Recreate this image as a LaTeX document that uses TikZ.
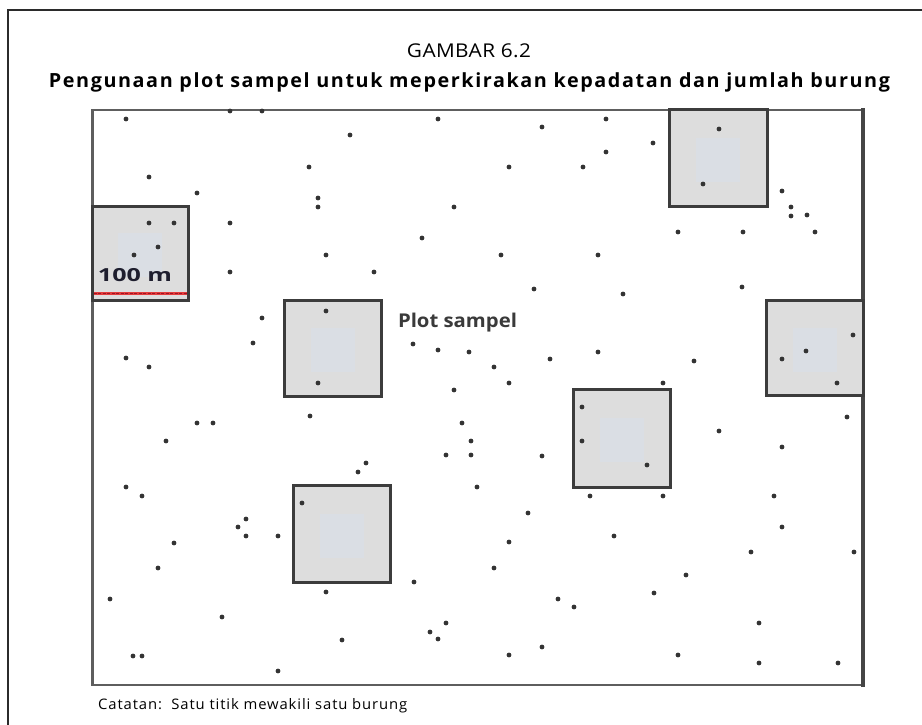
\documentclass[tikz,border=0pt]{standalone}
\usepackage{fontspec}
\usepackage{graphicx}
\setmainfont{Open Sans}
\newfontfamily\spacedfont[LetterSpace=8]{Open Sans}
\newfontfamily\capfont[LetterSpace=2]{Open Sans}
\newfontfamily\notefont[LetterSpace=6]{Open Sans}
\definecolor{framecol}{HTML}{2B2B2B}
\definecolor{mapedge}{HTML}{5E5E5E}
\definecolor{mapedgedark}{HTML}{454545}
\definecolor{plotedge}{HTML}{3C3C3C}
\definecolor{plotfill}{HTML}{DDDDDD}
\definecolor{plotinner}{HTML}{DADEE4}
\definecolor{dotcol}{HTML}{333333}
\definecolor{redline}{HTML}{E33B3B}
\definecolor{reddark}{HTML}{9E1525}
\definecolor{labelcol}{HTML}{1E1E2E}
\definecolor{plotlabelcol}{HTML}{3A3A3A}
\begin{document}
\begin{tikzpicture}[x=1pt,y=-1pt,
  plotbox/.style={draw=plotedge, line width=3pt, fill=plotfill, inner sep=0pt,
    path picture={\fill[plotinner] ([shift={(-22pt,-24pt)}]path picture bounding box.center) rectangle ([shift={(22pt,20pt)}]path picture bounding box.center);}},
  bird/.style={fill=dotcol, draw=none},
  txt/.style={inner sep=0pt, anchor=base}
]
\useasboundingbox (0,0) rectangle (922,725);
\fill[white] (0,0) rectangle (922,725);
% outer frame (top and left)
\draw[framecol, line width=2pt] (8,725) -- (8,10) -- (922,10);
% titles
\node[txt, text=black] (fig) at (469,58)
  {\resizebox{124pt}{\height}{\fontsize{19}{22}\selectfont\capfont GAMBAR 6.2}};
\node[txt, text=black] (title) at (469.5,88)
  {\resizebox{841pt}{\height}{\fontsize{19.5}{23}\selectfont\spacedfont\bfseries Pengunaan plot sampel untuk meperkirakan kepadatan dan jumlah burung}};
% map area
\draw[mapedge, line width=2.5pt] (92.5,110) rectangle (863,685);
\draw[mapedgedark, line width=4pt] (863,108.5) -- (863,686.5);
% sample plots
\node[plotbox, minimum width=95.5pt, minimum height=94pt] (pA) at (140.25,253) {};
\node[plotbox, minimum width=97pt, minimum height=96pt] (pB) at (332.5,348) {};
\node[plotbox, minimum width=98pt, minimum height=96pt] (pC) at (718,158) {};
\node[plotbox, minimum width=97pt, minimum height=95pt] (pD) at (814.5,347.5) {};
\node[plotbox, minimum width=97pt, minimum height=98pt] (pE) at (621.5,438) {};
\node[plotbox, minimum width=97pt, minimum height=97pt] (pF) at (341.5,533.5) {};
% birds
\foreach \p in {(126,119),(230,111),(262,111),(438,119),(350,135),(149,177),(309,167),(197,193),(318,198),(318,207),(454,207),(509,167),(149,223),(174,223),(158,247),(134,255),(230,223),(422,238),(326,255),(501,255),(230,272),(374,272),(326,311),(262,318),(253,343),(318,383),(126,358),(149,367),(413,344),(438,350),(469,352),(494,367),(509,383),(454,390),
(606,119),(542,127),(653,143),(606,152),(719,129),(703,184),(583,167),(782,191),(791,207),(791,216),(807,215),(815,232),(678,232),(743,232),(598,255),(534,289),(623,294),(742,287),(598,352),(550,359),(694,361),(663,383),(782,359),(806,351),(853,335),(837,383),
(310,416),(197,423),(213,423),(166,441),(462,423),(471,441),(446,455),(471,455),(366,463),(358,472),(477,487),(126,487),(142,496),(246,519),(238,527),(246,536),(278,536),(302,503),(174,543),(158,568),(494,568),(414,582),(326,592),(110,599),(222,617),(342,640),(446,623),(430,632),(438,639),(133,656),(142,656),(278,671),(509,542),(509,655),
(582,407),(582,441),(647,465),(542,456),(719,431),(782,447),(847,417),(590,496),(663,496),(774,496),(528,513),(614,536),(782,527),(751,552),(854,552),(686,575),(654,593),(558,599),(574,607),(759,623),(542,647),(678,655),(759,663),(838,663)}
  \fill[bird] \p circle (2.4pt);
% scale bar
\coordinate (sbL) at (93.5,293.5);
\coordinate (sbR) at (187,293.5);
\draw[redline, line width=3.5pt] (sbL) -- (sbR);
\draw[reddark, line width=1pt, dash pattern=on 3pt off 1.5pt] (sbL) -- (sbR);
\node[txt, text=labelcol] (scale) at (135,281)
  {\resizebox{74pt}{\height}{\fontsize{18}{20}\selectfont\bfseries 100 m}};
\node[txt, text=plotlabelcol] (plotlbl) at (457.5,327)
  {\resizebox{119pt}{\height}{\fontsize{19}{22}\selectfont\bfseries Plot sampel}};
% note
\node[txt, text=black, anchor=base west] (note) at (98,709)
  {\resizebox{309pt}{\height}{\fontsize{14.5}{17}\selectfont\notefont Catatan:\ \ Satu titik mewakili satu burung}};
\end{tikzpicture}
\end{document}
